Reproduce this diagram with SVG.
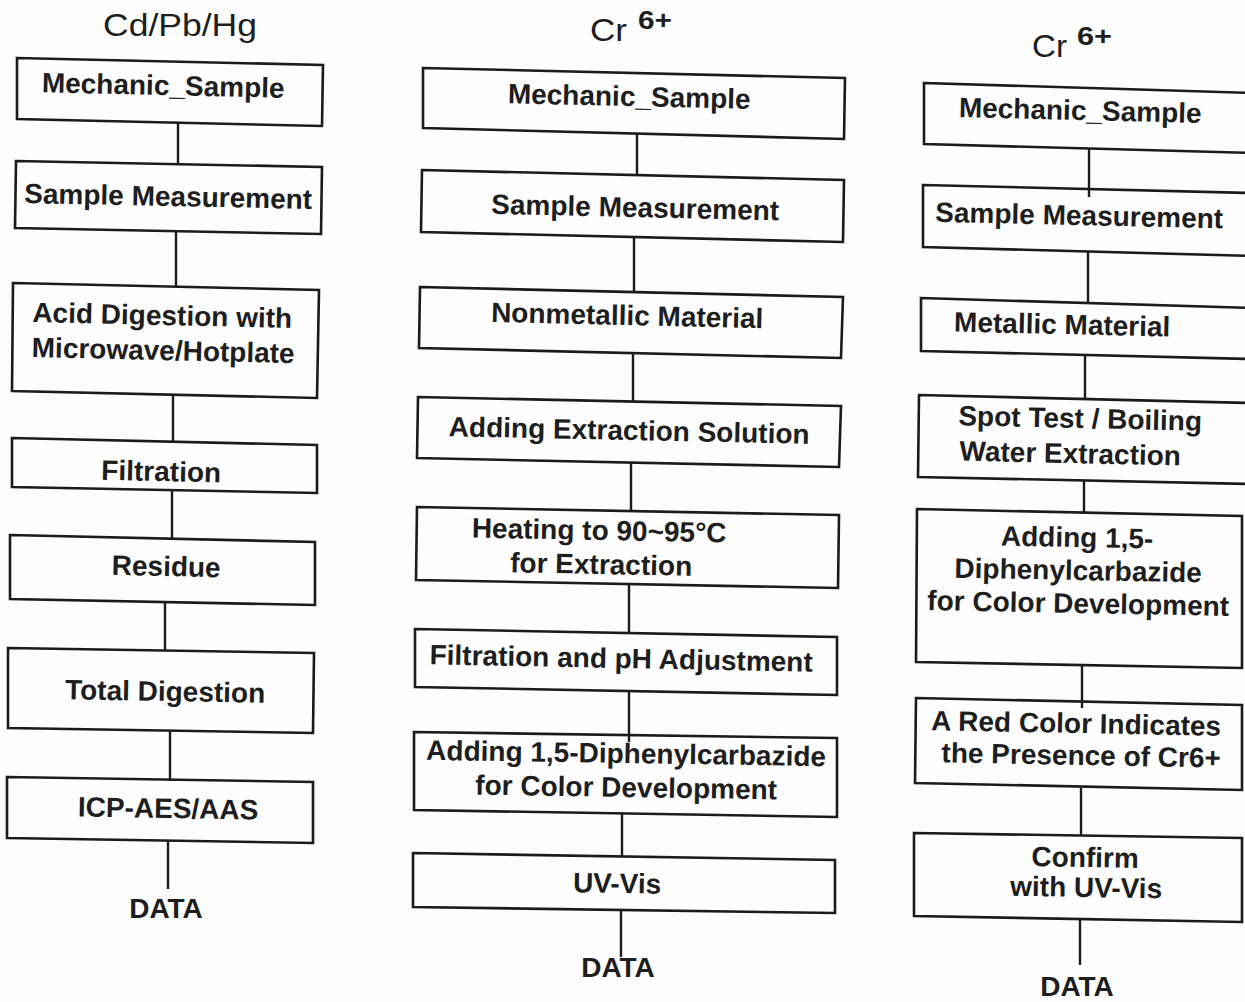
<svg xmlns="http://www.w3.org/2000/svg" width="1245" height="1002" viewBox="0 0 1245 1002">
  <style>
    .box { fill: none; stroke: #1b1b1b; stroke-width: 2.6; stroke-linejoin: miter; }
    .conn line { stroke: #1b1b1b; stroke-width: 2.4; }
    .lbl { font-family: "Liberation Sans", Arial, Helvetica, sans-serif; font-weight: bold; font-size: 28px; fill: #1e1e1e; text-anchor: middle; }
    .head { font-family: "Liberation Sans", Arial, Helvetica, sans-serif; font-size: 32px; fill: #1e1e1e; }
    .sup { font-family: "Liberation Sans", Arial, Helvetica, sans-serif; font-weight: bold; font-size: 26px; fill: #1e1e1e; }
  </style>

  <rect width="1245" height="1002" fill="#fdfdfd"/>

  <!-- column headings -->
  <g id="heading-cd-pb-hg">
    <text class="head" x="103" y="36" textLength="154" lengthAdjust="spacingAndGlyphs">Cd/Pb/Hg</text>
  </g>
  <g id="heading-cr6-nonmetal">
    <text class="head" x="590" y="41" textLength="37" lengthAdjust="spacingAndGlyphs">Cr</text>
    <text class="sup" x="638" y="29" textLength="34" lengthAdjust="spacingAndGlyphs">6+</text>
  </g>
  <g id="heading-cr6-metal">
    <text class="head" x="1032" y="57" textLength="35" lengthAdjust="spacingAndGlyphs">Cr</text>
    <text class="sup" x="1077" y="45" textLength="35" lengthAdjust="spacingAndGlyphs">6+</text>
  </g>

  <!-- connectors -->
  <g id="connectors" class="conn">
    <!-- Cd/Pb/Hg chain -->
    <line x1="178" y1="123" x2="178" y2="164"/>
    <line x1="176" y1="231" x2="176" y2="287"/>
    <line x1="173" y1="395" x2="173" y2="441"/>
    <line x1="172" y1="490" x2="172" y2="540"/>
    <line x1="165" y1="603" x2="165" y2="651"/>
    <line x1="170" y1="731" x2="170" y2="781"/>
    <line x1="168" y1="841" x2="168" y2="889"/>
    <!-- Cr6+ nonmetallic chain -->
    <line x1="637" y1="134" x2="637" y2="176"/>
    <line x1="634" y1="237" x2="634" y2="292"/>
    <line x1="633" y1="354" x2="633" y2="402"/>
    <line x1="631" y1="463" x2="631" y2="511"/>
    <line x1="629" y1="584" x2="629" y2="633"/>
    <line x1="629" y1="691" x2="629" y2="742"/>
    <line x1="622" y1="813" x2="622" y2="857"/>
    <line x1="621" y1="910" x2="621" y2="957"/>
    <!-- Cr6+ metallic chain -->
    <line x1="1089" y1="149" x2="1089" y2="197"/>
    <line x1="1088" y1="252" x2="1088" y2="303"/>
    <line x1="1085" y1="356" x2="1085" y2="400"/>
    <line x1="1084" y1="481" x2="1084" y2="514"/>
    <line x1="1082" y1="666" x2="1082" y2="708"/>
    <line x1="1081" y1="788" x2="1081" y2="836"/>
    <line x1="1080" y1="920" x2="1080" y2="965"/>
  </g>

  <!-- Cd/Pb/Hg column -->
  <g id="L1-mechanic-sample">
    <polygon class="box" points="17,58 323,65 322,126 17,119"/>
    <text class="lbl" x="163" y="95" transform="rotate(1.3 163 95)">Mechanic_Sample</text>
  </g>
  <g id="L2-sample-measurement">
    <polygon class="box" points="16,161 322,167 321,234 15,228"/>
    <text class="lbl" x="168" y="206" transform="rotate(1.2 168 206)">Sample Measurement</text>
  </g>
  <g id="L3-acid-digestion">
    <polygon class="box" points="13,283 319,290 317,398 12,391"/>
    <text class="lbl" x="162" y="325" transform="rotate(1.3 162 325)">Acid Digestion with</text>
    <text class="lbl" x="163" y="360" transform="rotate(1.3 163 360)">Microwave/Hotplate</text>
  </g>
  <g id="L4-filtration">
    <polygon class="box" points="12,438 317,445 317,493 12,487"/>
    <text class="lbl" x="161" y="481" transform="rotate(1.3 161 481)">Filtration</text>
  </g>
  <g id="L5-residue">
    <polygon class="box" points="10,535 315,542 315,605 10,599"/>
    <text class="lbl" x="166" y="576" transform="rotate(1.3 166 576)">Residue</text>
  </g>
  <g id="L6-total-digestion">
    <polygon class="box" points="8,648 314,653 313,733 8,728"/>
    <text class="lbl" x="165" y="701" transform="rotate(1 165 701)">Total Digestion</text>
  </g>
  <g id="L7-icp">
    <polygon class="box" points="7,777 313,782 313,843 7,838"/>
    <text class="lbl" x="168" y="818" transform="rotate(1 168 818)">ICP-AES/AAS</text>
  </g>
  <g id="L8-data">
    <text class="lbl" x="166" y="918">DATA</text>
  </g>

  <!-- Cr6+ nonmetallic column -->
  <g id="M1-mechanic-sample">
    <polygon class="box" points="423,68 845,78 844,139 423,128"/>
    <text class="lbl" x="629" y="106" transform="rotate(1.3 629 106)">Mechanic_Sample</text>
  </g>
  <g id="M2-sample-measurement">
    <polygon class="box" points="422,170 844,180 843,242 421,232"/>
    <text class="lbl" x="635" y="217" transform="rotate(1.3 635 217)">Sample Measurement</text>
  </g>
  <g id="M3-nonmetallic">
    <polygon class="box" points="420,287 843,297 841,358 419,348"/>
    <text class="lbl" x="627" y="325" transform="rotate(1.3 627 325)">Nonmetallic Material</text>
  </g>
  <g id="M4-extraction-solution">
    <polygon class="box" points="418,397 841,406 839,467 417,458"/>
    <text class="lbl" x="629" y="440" transform="rotate(1.2 629 440)">Adding Extraction Solution</text>
  </g>
  <g id="M5-heating">
    <polygon class="box" points="417,507 839,515 838,588 416,580"/>
    <text class="lbl" x="599" y="540" transform="rotate(1.1 599 540)">Heating to 90~95°C</text>
    <text class="lbl" x="601" y="574" transform="rotate(1.1 601 574)">for Extraction</text>
  </g>
  <g id="M6-filtration-ph">
    <polygon class="box" points="415,629 837,637 837,695 415,687"/>
    <text class="lbl" x="621" y="668" transform="rotate(1.1 621 668)">Filtration and pH Adjustment</text>
  </g>
  <g id="M7-diphenylcarbazide">
    <polygon class="box" points="414,732 837,738 837,817 414,810"/>
    <text class="lbl" x="626" y="763" transform="rotate(0.9 626 763)">Adding 1,5-Diphenylcarbazide</text>
    <text class="lbl" x="626" y="797" transform="rotate(0.9 626 797)">for Color Development</text>
  </g>
  <g id="M8-uv-vis">
    <polygon class="box" points="413,853 835,860 835,913 413,907"/>
    <text class="lbl" x="617" y="893" transform="rotate(0.9 617 893)">UV-Vis</text>
  </g>
  <g id="M9-data">
    <text class="lbl" x="618" y="977">DATA</text>
  </g>

  <!-- Cr6+ metallic column -->
  <g id="R1-mechanic-sample">
    <polygon class="box" points="924,83 1252,93 1252,153 924,144"/>
    <text class="lbl" x="1080" y="120" transform="rotate(1.4 1080 120)">Mechanic_Sample</text>
  </g>
  <g id="R2-sample-measurement">
    <polygon class="box" points="923,185 1252,193 1252,256 923,247"/>
    <text class="lbl" x="1079" y="225" transform="rotate(1.3 1079 225)">Sample Measurement</text>
  </g>
  <g id="R3-metallic">
    <polygon class="box" points="921,298 1252,308 1252,359 921,351"/>
    <text class="lbl" x="1062" y="334" transform="rotate(1.3 1062 334)">Metallic Material</text>
  </g>
  <g id="R4-spot-test">
    <polygon class="box" points="919,395 1252,403 1252,484 918,477"/>
    <text class="lbl" x="1080" y="428" transform="rotate(1.3 1080 428)">Spot Test / Boiling</text>
    <text class="lbl" x="1070" y="463" transform="rotate(1.3 1070 463)">Water Extraction</text>
  </g>
  <g id="R5-diphenylcarbazide">
    <polygon class="box" points="917,509 1242,516 1242,668 916,662"/>
    <text class="lbl" x="1077" y="547" transform="rotate(1.1 1077 547)">Adding 1,5-</text>
    <text class="lbl" x="1078" y="580" transform="rotate(1.1 1078 580)">Diphenylcarbazide</text>
    <text class="lbl" x="1078" y="613" transform="rotate(1.1 1078 613)">for Color Development</text>
  </g>
  <g id="R6-red-color">
    <polygon class="box" points="916,698 1242,705 1242,790 915,783"/>
    <text class="lbl" x="1076" y="733" transform="rotate(1.1 1076 733)">A Red Color Indicates</text>
    <text class="lbl" x="1081" y="765" transform="rotate(1.1 1081 765)">the Presence of Cr6+</text>
  </g>
  <g id="R7-confirm">
    <polygon class="box" points="914,833 1242,838 1242,922 914,916"/>
    <text class="lbl" x="1085" y="867" transform="rotate(1 1085 867)">Confirm</text>
    <text class="lbl" x="1086" y="897" transform="rotate(1 1086 897)">with UV-Vis</text>
  </g>
  <g id="R8-data">
    <text class="lbl" x="1077" y="996">DATA</text>
  </g>
</svg>
